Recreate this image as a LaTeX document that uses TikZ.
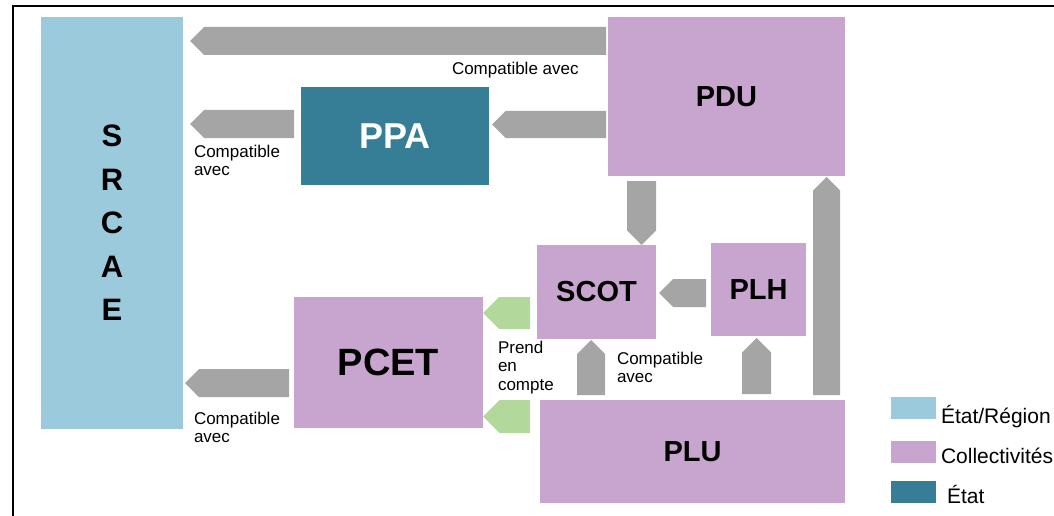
\documentclass[tikz,border=0pt]{standalone}
\usepackage{fontspec}
\setmainfont{Liberation Sans}
\usetikzlibrary{calc}
\definecolor{cblue}{HTML}{9ACADC}
\definecolor{cpurple}{HTML}{C8A5CE}
\definecolor{cteal}{HTML}{367E96}
\definecolor{cgray}{HTML}{A5A5A5}
\definecolor{cgreen}{HTML}{B2D89B}
\newcommand{\blkarrow}[4]{%
  \coordinate (ba-h) at ($(#2)!#3!(#1)$);
  \fill[#4] ($(#1)!#3!90:(#2)$) -- ($(ba-h)!#3!90:(#2)$) -- (#2) -- ($(ba-h)!#3!-90:(#2)$) -- ($(#1)!#3!-90:(#2)$) -- cycle;
}
\tikzset{
  box/.style={inner sep=0pt, outer sep=0pt, draw=none, font=\bfseries},
  lbl/.style={inner sep=0pt, outer sep=0pt, align=left, font=\fontsize{17}{18.5}\selectfont},
  leg/.style={inner sep=0pt, outer sep=0pt, font=\fontsize{21}{24}\selectfont},
  legbox/.style={inner sep=0pt, outer sep=0pt, minimum width=45pt, minimum height=22pt, anchor=north west}
}
\begin{document}
\begin{tikzpicture}[x=1pt, y=-1pt]
\useasboundingbox (0,0) rectangle (1054,516);
\draw[line width=2pt] (13,516) -- (13,6) -- (1054,6);
% boxes
\node[box, fill=cblue, minimum width=142pt, minimum height=411pt, align=center, font=\bfseries\fontsize{31}{43.5}\selectfont] (srcae) at (112,223) {S\\R\\C\\A\\E};
\node[box, fill=cpurple, minimum width=237pt, minimum height=159pt, font=\bfseries\fontsize{29}{34}\selectfont] (pdu) at (726.5,96.5) {PDU};
\node[box, fill=cteal, text=white, minimum width=188pt, minimum height=98pt, font=\bfseries\fontsize{36}{40}\selectfont] (ppa) at (395,136) {PPA};
\node[box, fill=cpurple, minimum width=119pt, minimum height=94pt, font=\bfseries\fontsize{29}{34}\selectfont] (scot) at (596.5,292) {SCOT};
\node[box, fill=cpurple, minimum width=95pt, minimum height=93pt, font=\bfseries\fontsize{29}{34}\selectfont] (plh) at (758.5,289.5) {PLH};
\node[box, fill=cpurple, minimum width=189pt, minimum height=131pt, font=\bfseries\fontsize{38}{42}\selectfont] (pcet) at (388.5,362.5) {PCET};
\node[box, fill=cpurple, minimum width=305pt, minimum height=103pt, font=\bfseries\fontsize{29}{34}\selectfont] (plu) at (692.5,451.5) {PLU};
% arrow end points
\coordinate (a1s) at ($(pdu.west|-0,41)+(-2,0)$);
\coordinate (a1t) at ($(srcae.east|-0,41)+(7,0)$);
\coordinate (a2s) at ($(pdu.west|-0,124.5)+(-2,0)$);
\coordinate (a2t) at ($(ppa.east|-0,124.5)+(3,0)$);
\coordinate (a3s) at ($(ppa.west|-0,124)+(-7,0)$);
\coordinate (a3t) at ($(srcae.east|-0,124)+(7,0)$);
\coordinate (a4s) at ($(pcet.west|-0,383)+(-5,0)$);
\coordinate (a4t) at ($(srcae.east|-0,383)+(2,0)$);
\coordinate (a5s) at ($(pdu.south-|641.5,0)+(0,5)$);
\coordinate (a5t) at (scot.north-|641.5,0);
\coordinate (a6s) at ($(plu.north-|826.5,0)+(0,-5)$);
\coordinate (a6t) at ($(pdu.south-|826.5,0)+(0,1)$);
\coordinate (a7s) at ($(plh.west|-0,293)+(-5,0)$);
\coordinate (a7t) at ($(scot.east|-0,293)+(3,0)$);
\coordinate (a8s) at ($(plu.north-|591,0)+(0,-5)$);
\coordinate (a8t) at ($(scot.south-|591,0)+(0,1)$);
\coordinate (a9s) at ($(plu.north-|756.5,0)+(0,-6)$);
\coordinate (a9t) at ($(plh.south-|756.5,0)+(0,2)$);
\coordinate (g1s) at ($(scot.west|-0,313)+(-7,0)$);
\coordinate (g1t) at (pcet.east|-0,313);
\coordinate (g2s) at ($(plu.west|-0,416.5)+(-10,0)$);
\coordinate (g2t) at (pcet.east|-0,416.5);
% block arrows
\blkarrow{a1s}{a1t}{14pt}{cgray}
\blkarrow{a2s}{a2t}{13.5pt}{cgray}
\blkarrow{a3s}{a3t}{14pt}{cgray}
\blkarrow{a4s}{a4t}{14pt}{cgray}
\blkarrow{a5s}{a5t}{14.5pt}{cgray}
\blkarrow{a6s}{a6t}{13.5pt}{cgray}
\blkarrow{a7s}{a7t}{14pt}{cgray}
\blkarrow{a8s}{a8t}{14pt}{cgray}
\blkarrow{a9s}{a9t}{14.5pt}{cgray}
\blkarrow{g1s}{g1t}{16pt}{cgreen}
\blkarrow{g2s}{g2t}{16.5pt}{cgreen}
% labels
\node[lbl, anchor=base west] (l1) at (452,75) {Compatible avec};
\node[lbl, anchor=north west] (l2) at (194,145) {Compatible\\avec};
\node[lbl, anchor=north west] (l3) at (194,412) {Compatible\\avec};
\node[lbl, anchor=north west] (l4) at (498,341) {Prend\\en\\compte};
\node[lbl, anchor=north west] (l5) at (617,352) {Compatible\\avec};
% legend
\node[legbox, fill=cblue] (k1) at (891,397) {};
\node[legbox, fill=cpurple] (k2) at (891,441) {};
\node[legbox, fill=cteal] (k3) at (891,481) {};
\node[leg, anchor=base west] (t1) at (941,423) {État/Région};
\node[leg, anchor=base west] (t2) at (941,463) {Collectivités};
\node[leg, anchor=base west] (t3) at (947,503) {État};
\end{tikzpicture}
\end{document}
